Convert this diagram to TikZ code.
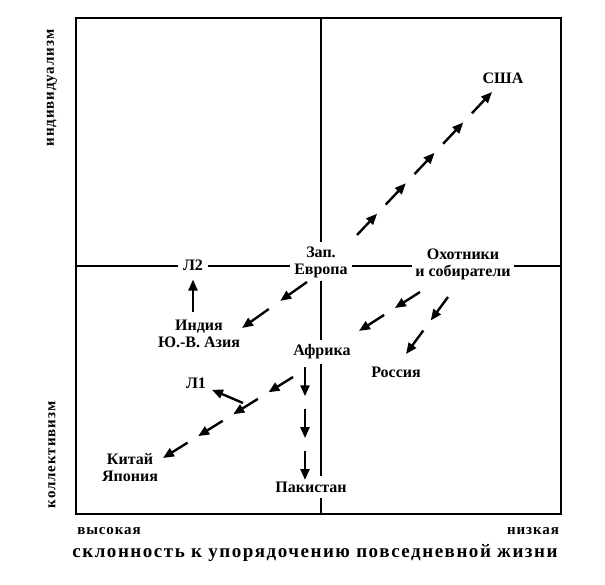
\documentclass[tikz,border=0pt]{standalone}
\usepackage{fontspec}
\setmainfont{Liberation Serif}
\usetikzlibrary{positioning, calc, arrows.meta}

% a row of short arrows from #1 to #2, made of #3 pieces
\newcommand{\arrowchain}[3]{%
  \pgfmathsetmacro\chainstep{1/(#3-0.3)}
  \foreach \k in {1,...,#3}{
    \pgfmathsetmacro\chainfrom{(\k-1)*\chainstep}
    \pgfmathsetmacro\chainto{\chainfrom+0.7*\chainstep}
    \draw[piece] ($(#1)!\chainfrom!(#2)$) -- ($(#1)!\chainto!(#2)$);
  }
}

\begin{document}
\begin{tikzpicture}[x=1pt, y=-1pt]
        \tikzset{
            >={Triangle[length=11pt, width=9pt]}, % solid heads
            place/.style={font=\fontsize{16}{17}\selectfont\bfseries, align=center, fill=white, inner sep=3pt},
            axis text/.style={font=\fontsize{15}{16}\selectfont\bfseries\addfontfeature{LetterSpace=6}, inner sep=0pt},
            scale text/.style={font=\fontsize{19}{21}\selectfont\bfseries\addfontfeature{LetterSpace=8}, inner sep=0pt},
            piece/.style={->, line width=2.4pt},
            frame/.style={line width=2pt},
            middle/.style={line width=1.4pt},
            }
        \useasboundingbox (0,0) rectangle (605,585);

        % frame and axes
        \coordinate (top_left) at (76,18);
        \coordinate (bottom_right) at (561,514);
        \coordinate (top_mid) at (321,18);
        \coordinate (bottom_mid) at (321,514);
        \coordinate (left_mid) at (76,266);
        \coordinate (right_mid) at (561,266);
        \draw[frame] (top_left) rectangle (bottom_right);
        \draw[middle] (top_mid) -- (bottom_mid);
        \draw[middle] (left_mid) -- (right_mid);

        % nodes
        \node[place] (usa) at (503,78) {США};
        \node[place, inner sep=4pt] (europe) at (321,262) {Зап.\\Европа};
        \node[place, inner sep=5pt] (l2) at (193,265) {Л2};
        \node[place] (india) at (199,334) {Индия\\Ю.-В. Азия};
        \node[place] (hunters) at (463,264) {Охотники\\и собиратели};
        \node[place, inner sep=5pt] (africa) at (322,352) {Африка};
        \node[place] (russia) at (396,372) {Россия};
        \node[place] (l1) at (196,383) {Л1};
        \node[place] (china) at (130,468) {Китай\\Япония};
        \node[place, inner sep=6pt] (pakistan) at (311,487) {Пакистан};

        % axis texts
        \node[axis text, rotate=90] (individual) at (52,88) {индивидуализм};
        \node[axis text, rotate=90] (collective) at (52,455) {коллективизм};
        \node[axis text] (high) at (109,531) {высокая};
        \node[axis text] (low) at (533,531) {низкая};
        \node[scale text] (order) at (315,553) {склонность к упорядочению повседневной жизни};

        % chain ends
        \coordinate (usa_start) at (357,235);
        \coordinate (usa_end) at (492,92);
        \coordinate (india_start) at (307,282);
        \coordinate (india_end) at (242,328);
        \coordinate (hunt_africa_start) at (420,292);
        \coordinate (hunt_africa_end) at (359,331);
        \coordinate (russia_start) at (448,297);
        \coordinate (russia_end) at (406,354);
        \coordinate (china_start) at (293,377);
        \coordinate (china_end) at (163,458);
        \coordinate (pakistan_start) at (305,367);
        \coordinate (pakistan_end) at (305,480);
        \coordinate (l1_fork) at (243,403);

        % arrow paths
        \arrowchain{usa_start}{usa_end}{5}
        \arrowchain{india_start}{india_end}{2}
        \arrowchain{hunt_africa_start}{hunt_africa_end}{2}
        \arrowchain{russia_start}{russia_end}{2}
        \arrowchain{china_start}{china_end}{4}
        \arrowchain{pakistan_start}{pakistan_end}{3}
        \draw[piece, shorten <=5pt, shorten >=4pt] (l2 |- india.north) -- (l2.south);
        \draw[piece, shorten >=3pt] (l1_fork) -- (l1);
\end{tikzpicture}
\end{document}
